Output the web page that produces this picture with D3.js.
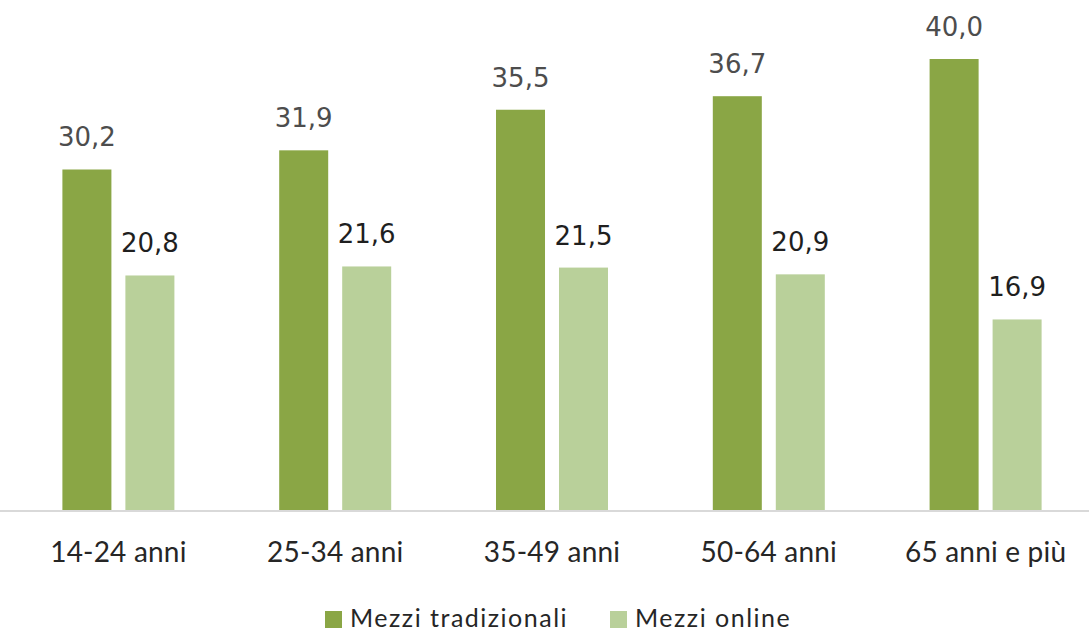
<!DOCTYPE html>
<html><head><meta charset="utf-8">
<script src="https://cdn.jsdelivr.net/npm/d3@7"></script>
<style>body{margin:0;background:#fff}svg{display:block}</style>
</head><body>
<svg id="c" width="1089" height="631"></svg>
<script>
const categories = ["14-24 anni","25-34 anni","35-49 anni","50-64 anni","65 anni e più"];
const seriesNames = ["Mezzi tradizionali","Mezzi online"];
const tradizionali = [30.2,31.9,35.5,36.7,40.0];
const online = [20.8,21.6,21.5,20.9,16.9];
const colors = ["#8aa645","#b9d09a"];
const labelColors = ["#4d4d4d","#1f1f1f"];

const svg = d3.select("#c");
const x0 = d3.scaleBand().domain(categories).range([10,1094]).padding(0);
const x1 = d3.scaleBand().domain(seriesNames).range([0,112]).paddingInner(0.222).paddingOuter(0);
const y = d3.scaleLinear().domain([0,40]).range([510,59]);
const values = [tradizionali, online];

const fmt = v => v.toFixed(1).replace(".",",");

categories.forEach((c,i)=>{
  const cx = x0(c) + x0.bandwidth()/2 - 56;
  seriesNames.forEach((s,j)=>{
    const v = values[j][i];
    svg.append("rect")
      .attr("x", cx + x1(s)).attr("y", y(v))
      .attr("width", x1.bandwidth()).attr("height", y(0)-y(v))
      .attr("fill", colors[j]);
    svg.append("text")
      .attr("x", cx + x1(s) + x1.bandwidth()/2).attr("y", y(v)-23)
      .attr("text-anchor","middle")
      .attr("font-family","DejaVu Sans, sans-serif")
      .attr("font-size",26).attr("fill",labelColors[j])
      .text(fmt(v));
  });
});

// axis
const axis = d3.axisBottom(x0).tickSize(0).tickPadding(0);
const g = svg.append("g").attr("transform","translate(0,511)").call(axis);
g.select(".domain").attr("d","M0,0H1089").attr("stroke","#d9d9d9").attr("stroke-width",2);
g.selectAll(".tick text")
  .attr("y",51).attr("dy",0)
  .attr("font-family","Lato, sans-serif").attr("font-size",28)
  .attr("letter-spacing",0.2).attr("fill","#262626");

// legend
const leg = svg.append("g");
const legX = [325, 610];
seriesNames.forEach((s,j)=>{
  leg.append("rect").attr("x",legX[j]).attr("y",611).attr("width",17).attr("height",17).attr("fill",colors[j]);
  leg.append("text").attr("x",legX[j]+25).attr("y",627)
    .attr("font-family","Lato, sans-serif").attr("font-size",25)
    .attr("letter-spacing",1.5).attr("fill","#262626").text(s);
});
</script>
</body></html>
